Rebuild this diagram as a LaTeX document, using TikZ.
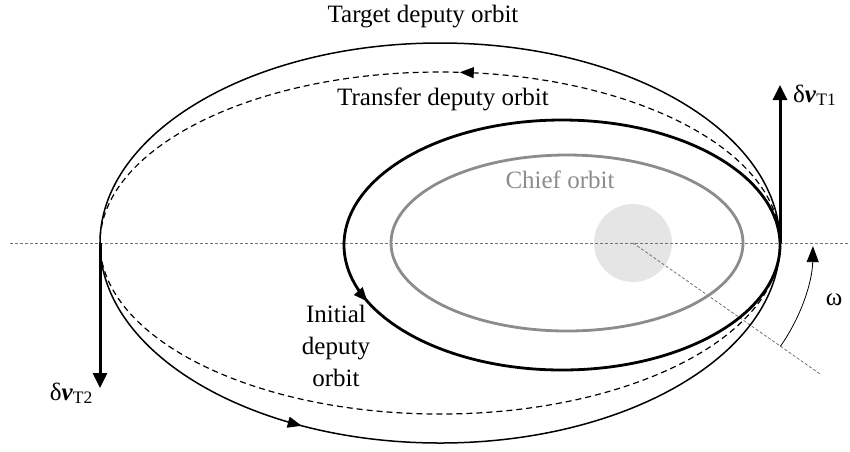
\documentclass[tikz,border=0pt]{standalone}
\usepackage{fontspec}
\setmainfont{Liberation Serif}
\usetikzlibrary{calc}
\usetikzlibrary{arrows.meta}
\usetikzlibrary{decorations.markings}

\begin{document}
\begin{tikzpicture}[x=1pt, y=-1pt,
  refline/.style={black!55, line width=.8pt, dash pattern=on 3pt off 2pt},
  dvarrow/.style={line width=3pt, -{Triangle[length=15pt,width=14pt]}},
  orbittip/.style={postaction={decorate, decoration={markings, mark=at position #1 with {\arrowreversed{Triangle[length=14pt,width=11pt]}}}}},
  lbl/.style={font=\fontsize{25}{32}\selectfont, inner sep=0pt}]
\useasboundingbox (0,0) rectangle (850,451);

\coordinate (chief) at (633,243);
\coordinate (peri) at (780,243);
\coordinate (apo) at (100,243);
\coordinate (dv1tip) at (780,85);
\coordinate (dv2tip) at (100,388);

\fill[black!10] (chief) circle (39);
\draw[refline] (10,243) -- (850,243);
\draw[refline] (chief) -- ++(35:230);

\draw[black!45, line width=2.8pt] (567,243) ellipse (176 and 88);
\draw[line width=2.8pt, orbittip=.443] (562,245) ellipse (218 and 125);
\draw[line width=1.2pt, dash pattern=on 6pt off 4pt, orbittip=.762] (440,243) ellipse (340 and 171);
\draw[line width=1.5pt, orbittip=.331] (440,243) ellipse (340 and 200);

\draw[dvarrow] (peri) -- (dv1tip);
\draw[dvarrow] (apo) -- (dv2tip);
\draw[line width=.8pt, -{Triangle[length=16pt,width=12pt]}] (chief) ++(35:180) arc[start angle=35, end angle=1, radius=180];

\node[lbl, anchor=base west] (dv1) at (793,102) {δ\textbf{\textit{v}}\textsubscript{T1}};
\node[lbl, anchor=base east] (dv2) at (93,400) {δ\textbf{\textit{v}}\textsubscript{T2}};
\node[lbl] (omega) at (834,300) {ω};
\node[lbl, anchor=base] (target) at (423,22) {Target deputy orbit};
\node[lbl, anchor=base] (transfer) at (443,105) {Transfer deputy orbit};
\node[lbl, anchor=base, black!45] (chieflbl) at (560,188) {Chief orbit};
\node[lbl, align=center] (initial) at (336,346) {Initial\\deputy\\orbit};

\end{tikzpicture}
\end{document}
